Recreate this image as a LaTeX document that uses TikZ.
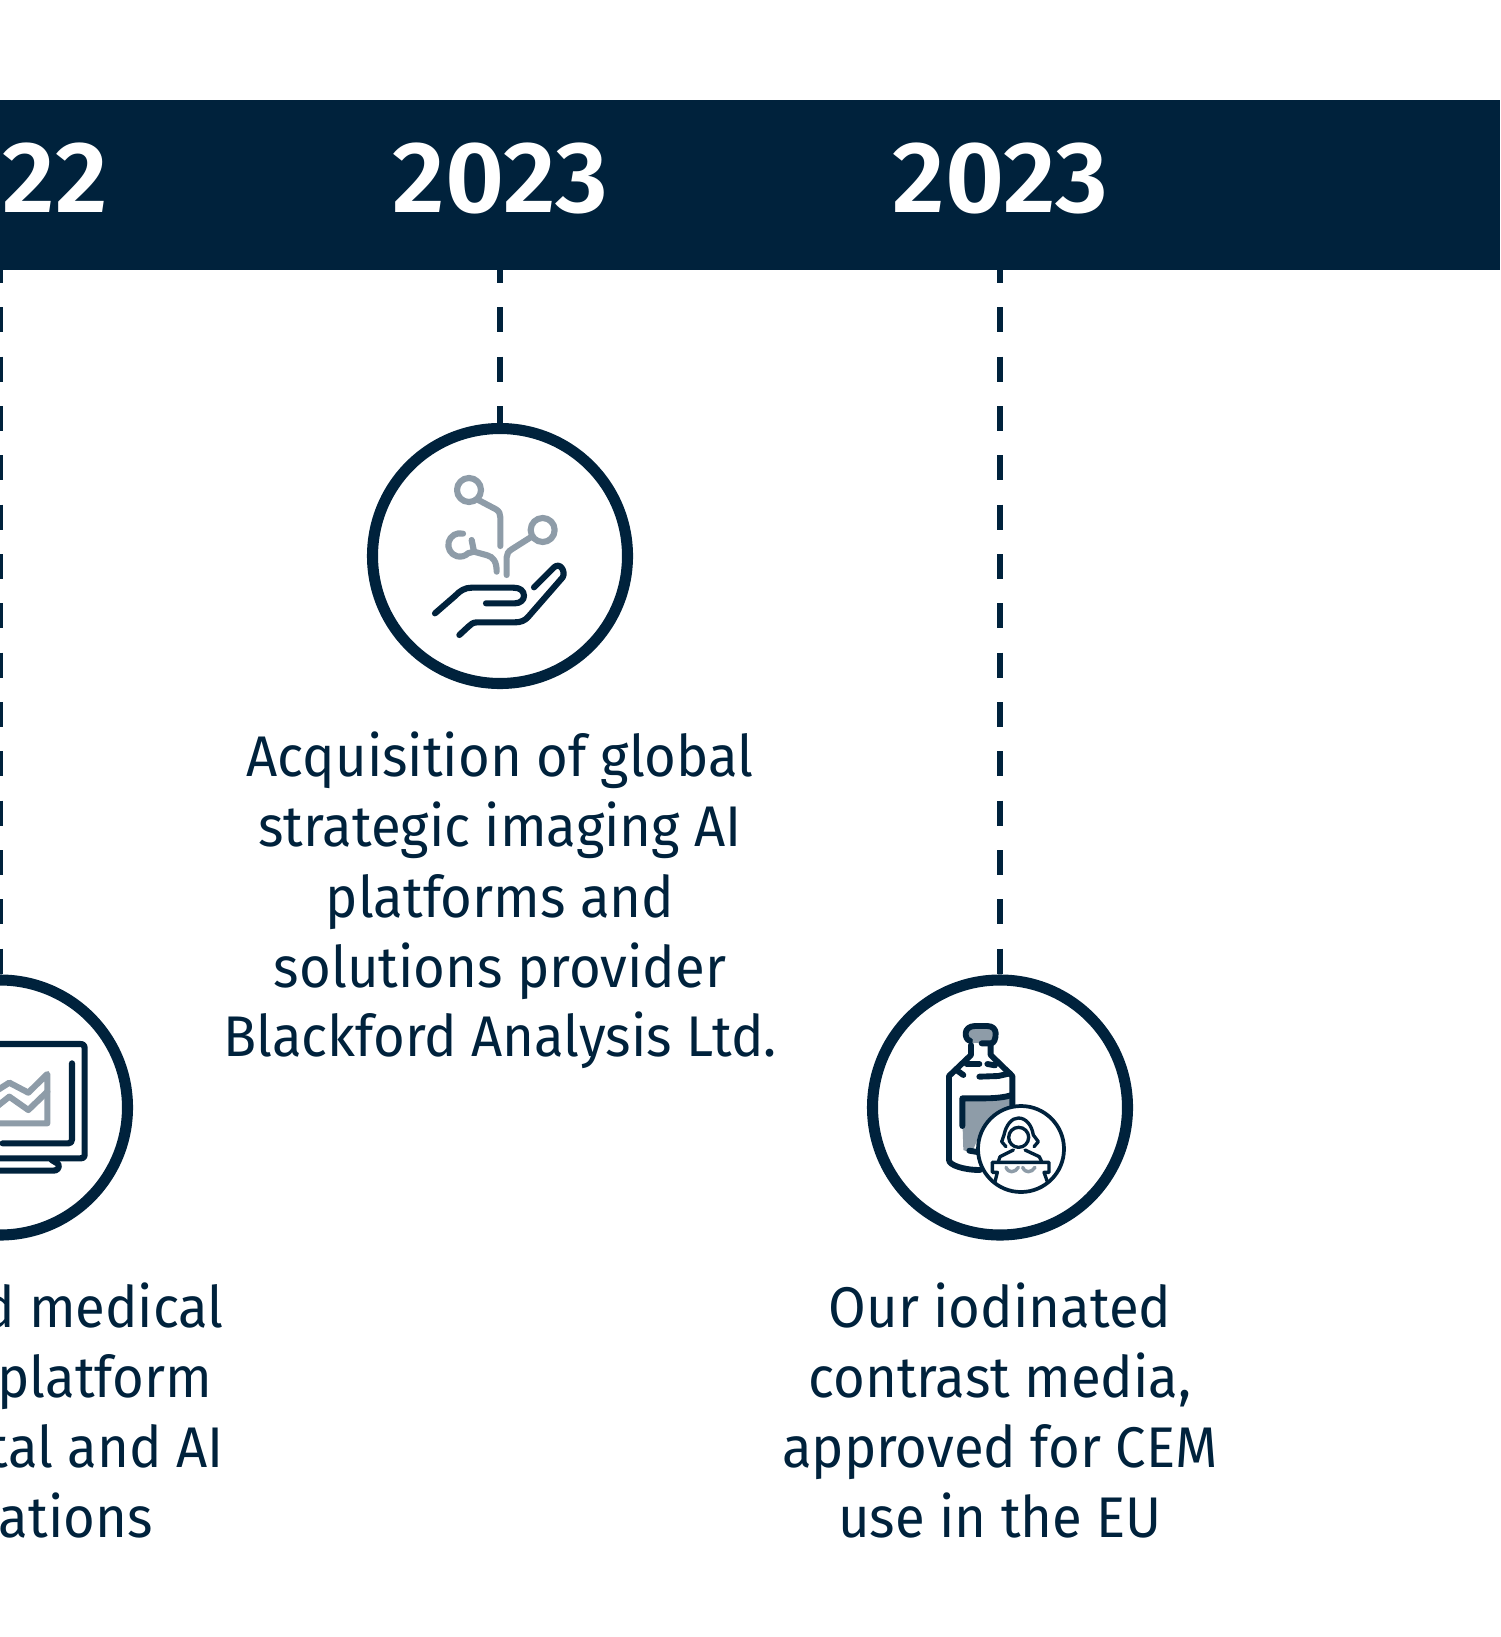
\documentclass[tikz,border=0pt]{standalone}
\usepackage{fontspec}
\setmainfont{Fira Sans}[FakeStretch=0.95]
\newfontfamily\yearfont{Fira Sans SemiBold}[FakeStretch=1.01]
\definecolor{navy}{HTML}{00223C}
\definecolor{greyblue}{HTML}{8E9CA8}
\tikzset{
  pxgrid/.style={x=0.75pt,y=-0.75pt},
  bar/.style={fill=navy,draw=none,minimum width=1500*0.75pt,minimum height=170*0.75pt,inner sep=0pt,anchor=north west},
  yearlabel/.style={text=white,font=\yearfont\fontsize{76}{76}\selectfont,inner sep=0pt},
  ring/.style={circle,draw=navy,line width=8.3pt,fill=white,minimum size=255*0.75pt,inner sep=0pt},
  dashline/.style={draw=navy,line width=4.4pt,dash pattern=on 18.75pt off 18.25pt,dash phase=9pt},
  body/.style={text=navy,font=\fontsize{43}{52.5}\selectfont,align=center,inner sep=0pt,anchor=north},
  dk/.style={draw=navy,line cap=round,line join=round,line width=4.6pt},
  gr/.style={draw=greyblue,line cap=round,line join=round,line width=4.6pt},
  dkb/.style={draw=navy,line cap=round,line join=round,line width=4.4pt},
  thinline/.style={draw=navy,line cap=round,line join=round,line width=2.5pt},
  izoom/.style={x=0.25pt,y=-0.25pt},
}
\begin{document}
\begin{tikzpicture}[pxgrid]
\useasboundingbox (0,0) rectangle (1501,1637);
\node[bar] (band) at (0,100) {};
\coordinate (d0) at (0.5,270);
\coordinate (d1) at (500,270);
\coordinate (d2) at (1000,270);
\coordinate (e0) at (0.5,975);
\node[ring] (c0) at (0,1107.5) {};
\node[ring] (c1) at (500,556) {};
\node[ring] (c2) at (1000,1107.5) {};
\draw[dashline] (d0) -- (e0);
\draw[dashline] (d1) -- (c1.north);
\draw[dashline] (d2) -- (c2.north);
\node[yearlabel] (y0) at (0,179) {2022};
\node[yearlabel] (y1) at (500.5,179) {2023};
\node[yearlabel] (y2) at (1000.5,179) {2023};
\node[body] (t1) at (500,732) {Acquisition of global\\strategic imaging AI\\platforms and\\solutions provider\\Blackford Analysis Ltd.};
\node[body] (t2) at (1000,1282) {Our iodinated\\contrast media,\\approved for CEM\\use in the EU};
\node[body] (t0) at (0,1282) {Advanced medical\\imaging platform\\with digital and AI\\applications};
% hand icon
\begin{scope}[shift={(400,440)},izoom]
\draw[gr] (207,150) circle (36);
\draw[gr] (235,180) -- (288,208) .. controls (298,214) and (301,222) .. (301,232) -- (301,318);
\draw[gr] (428,270) circle (36);
\draw[gr] (395,290) -- (335,328) .. controls (325,334) and (320,342) .. (320,352) -- (320,405);
\draw[gr] (189,281) arc[start angle=-75,end angle=-315,radius=35] -- (222,335) -- (262,346) .. controls (280,351) and (290,365) .. (290,395);
\draw[gr] (215,300) -- (222,335);
\draw[dk] (105,520) -- (165,468) .. controls (180,452) and (195,443) .. (215,443) -- (340,443) .. controls (360,443) and (372,452) .. (372,468) .. controls (372,480) and (360,490) .. (345,490) -- (258,490);
\draw[dk] (178,585) -- (205,560) .. controls (212,552) and (220,547) .. (232,547) -- (345,547) .. controls (362,547) and (375,542) .. (385,530) -- (488,412) .. controls (498,395) and (480,365) .. (462,382) -- (402,442);
\end{scope}
% bottle icon
\begin{scope}[shift={(900,1000)},izoom]
\fill[greyblue] (200,85) rectangle (285,130);
\fill[greyblue] (185,295) -- (330,295) -- (330,330) -- (240,400) -- (215,460) -- (190,450) -- cycle;
\draw[dkb] (210,122) .. controls (200,120) and (197,110) .. (197,100) .. controls (197,88) and (208,78) .. (225,78) -- (262,78) .. controls (278,78) and (287,88) .. (287,100) .. controls (287,118) and (282,130) .. (272,130) -- (245,130);
\draw[dkb] (213,135) -- (213,165) -- (147,228) -- (147,480) .. controls (147,495) and (190,510) .. (240,510);
\draw[dkb] (272,135) -- (272,165) -- (337,228) -- (337,320);
\draw[dkb] (200,192) -- (238,192);
\draw[dkb] (262,192) -- (285,196);
\draw[dkb] (238,230) -- (295,228) -- (330,220);
\draw[dkb] (172,212) -- (190,225);
\draw[dkb] (187,378) -- (187,295) -- (250,295) .. controls (285,295) and (315,292) .. (335,285);
\draw[dkb] (208,452) -- (232,456);
\node[circle,draw=navy,fill=white,line width=2.8pt,minimum size=64.5pt,inner sep=0pt] (mini) at (363,447) {};
\draw[thinline] (318,440) -- (305,425) -- (312,405) .. controls (318,375) and (335,354) .. (355,354) .. controls (378,354) and (395,375) .. (400,405) -- (415,425) -- (402,440);
\draw[thinline] (356,412) circle (30);
\draw[thinline] (295,485) -- (300,470) -- (340,450);
\draw[thinline] (375,450) -- (418,470) -- (425,485);
\draw[thinline] (277,487) -- (447,487) -- (447,517) -- (432,517) -- (442,545);
\draw[thinline] (277,487) -- (277,517) -- (292,517) -- (285,545);
\draw[gr,line width=2.6pt] (318,502) .. controls (322,512) and (330,515) .. (335,515) .. controls (343,515) and (350,510) .. (355,502);
\draw[gr,line width=2.6pt] (368,502) .. controls (372,512) and (380,515) .. (385,515) .. controls (393,515) and (400,510) .. (405,502);
\end{scope}
% screen icon
\begin{scope}[shift={(0,960)},izoom]
\draw[dk] (-10,252) -- (240,252) .. controls (250,252) and (254,256) .. (254,266) -- (254,582) .. controls (254,592) and (250,595) .. (240,595) -- (-10,595);
\draw[dk] (216,310) -- (216,538) .. controls (216,546) and (212,550) .. (205,550) -- (8,550);
\draw[dk] (155,600) -- (175,612) .. controls (180,625) and (170,632) .. (160,632) -- (-10,632);
\draw[gr] (-10,490) -- (142,490) -- (142,342) -- (85,398) -- (28,368) -- (-10,392);
\draw[gr] (-10,440) -- (28,410) -- (85,450) -- (142,395);
\end{scope}
\end{tikzpicture}
\end{document}
